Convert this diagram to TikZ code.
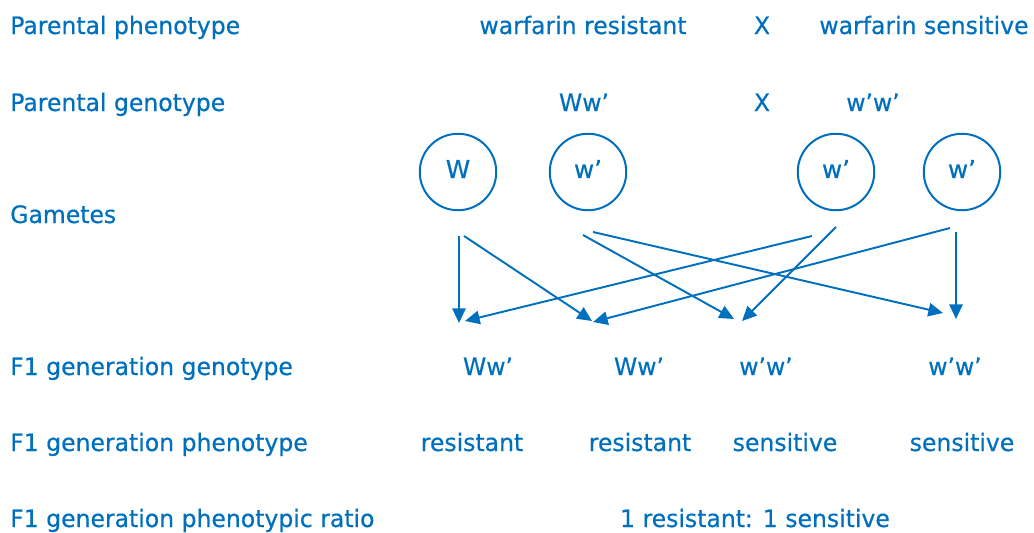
\documentclass[tikz,border=0pt]{standalone}
\usepackage{fontspec}
\setmainfont[FakeStretch=0.98,FakeBold=0.5]{DejaVu Sans}
\newfontfamily\gamfont[FakeBold=0.6]{DejaVu Sans}
\usetikzlibrary{arrows.meta}
\definecolor{ink}{RGB}{0,112,190}
\tikzset{
  txt/.style={text=ink, font=\fontsize{18}{21}\selectfont, inner sep=0pt},
  lbl/.style={txt, anchor=base west},
  val/.style={txt, anchor=base},
  gtxt/.style={text=ink, font=\gamfont\fontsize{18.5}{20}\selectfont, inner sep=0pt, anchor=base},
  gamete/.style={circle, draw=ink, line width=1.5pt, minimum size=76.5*0.75pt, inner sep=0pt},
  cross/.style={draw=ink, line width=1.45pt, -{Triangle[length=11pt,width=10pt]}}
}
\begin{document}
\begin{tikzpicture}[x=0.75pt, y=-0.75pt]
  \useasboundingbox (0,0) rectangle (1034,532);

  % row labels
  \node[lbl] (l1) at (10,34)  {Parental phenotype};
  \node[lbl] (l2) at (10,111) {Parental genotype};
  \node[lbl] (l3) at (10,223) {Gametes};
  \node[lbl] (l4) at (10,375) {F1 generation genotype};
  \node[lbl] (l5) at (10,451) {F1 generation phenotype};
  \node[lbl] (l6) at (10,527) {F1 generation phenotypic ratio};

  % parents
  \node[val] (pp1) at (583,34) {warfarin resistant};
  \node[val] (ppx) at (762,34) {X};
  \node[val] (pp2) at (924,34) {warfarin sensitive};
  \node[val] (pg1) at (584,111) {Ww’};
  \node[val] (pgx) at (762,111) {X};
  \node[val] (pg2) at (873,111) {w’w’};

  % gametes
  \node[gamete] (g1) at (458,172) {};
  \node[gamete] (g2) at (588,172) {};
  \node[gamete] (g3) at (836,172) {};
  \node[gamete] (g4) at (962,172) {};
  \node[gtxt] (t1) at (458,178) {W};
  \node[gtxt] (t2) at (588,178) {w’};
  \node[gtxt] (t3) at (836,178) {w’};
  \node[gtxt] (t4) at (962,178) {w’};

  % offspring genotypes and phenotypes
  \node[val] (f1) at (488,375) {Ww’};
  \node[val] (f2) at (639,375) {Ww’};
  \node[val] (f3) at (766,375) {w’w’};
  \node[val] (f4) at (955,375) {w’w’};
  \node[val] (h1) at (472,451) {resistant};
  \node[val] (h2) at (640,451) {resistant};
  \node[val] (h3) at (785,451) {sensitive};
  \node[val] (h4) at (962,451) {sensitive};
  \node[val] (ratio) at (755,527) {1 resistant: 1 sensitive};

  % arrow end points
  \coordinate (s1a) at (459,236);
  \coordinate (s1b) at (464,236);
  \coordinate (s2a) at (583,235);
  \coordinate (s2b) at (593,232);
  \coordinate (s3a) at (812,236);
  \coordinate (s3b) at (836,227);
  \coordinate (s4a) at (950,228);
  \coordinate (s4b) at (956,232);
  \coordinate (e1a) at (459,323);
  \coordinate (e1b) at (465,321);
  \coordinate (e2a) at (592,321);
  \coordinate (e2b) at (593,322);
  \coordinate (e3a) at (734,319);
  \coordinate (e3b) at (742,321);
  \coordinate (e4a) at (943,313);
  \coordinate (e4b) at (956,319);

  % crosses
  \draw[cross] (s1a) -- (e1a);
  \draw[cross] (s1b) -- (e2a);
  \draw[cross] (s2a) -- (e3a);
  \draw[cross] (s2b) -- (e4a);
  \draw[cross] (s3a) -- (e1b);
  \draw[cross] (s3b) -- (e3b);
  \draw[cross] (s4a) -- (e2b);
  \draw[cross] (s4b) -- (e4b);
\end{tikzpicture}
\end{document}
